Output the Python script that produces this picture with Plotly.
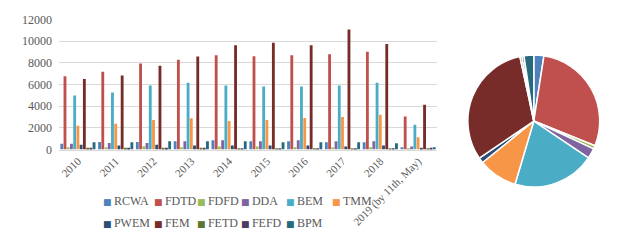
import plotly.graph_objects as go

years = ["2010", "2011", "2012", "2013", "2014", "2015", "2016", "2017", "2018", "2019 (by 11th, May)"]

RCWA = [520, 700, 700, 760, 850, 760, 760, 670, 670, 210]
FDTD = [6740, 7170, 7930, 8270, 8690, 8600, 8690, 8780, 9000, 3050]
FDFD = [210, 210, 300, 210, 270, 270, 210, 210, 210, 120]
DDA = [520, 610, 610, 760, 850, 760, 850, 760, 760, 270]
BEM = [4970, 5250, 5890, 6160, 5890, 5800, 5800, 5890, 6160, 2290]
TMM = [2200, 2380, 2710, 2870, 2620, 2710, 2900, 2990, 3200, 1130]
PWEM = [430, 370, 430, 370, 370, 370, 370, 270, 370, 150]
FEM = [6500, 6830, 7720, 8570, 9610, 9850, 9610, 11070, 9730, 4120]
FETD = [150, 150, 150, 150, 120, 120, 120, 120, 120, 120]
FEFD = [150, 150, 150, 150, 120, 120, 120, 120, 120, 150]
BPM = [670, 670, 760, 760, 760, 670, 670, 670, 580, 210]

methods = ["RCWA", "FDTD", "FDFD", "DDA", "BEM", "TMM", "PWEM", "FEM", "FETD", "FEFD", "BPM"]
series = [RCWA, FDTD, FDFD, DDA, BEM, TMM, PWEM, FEM, FETD, FEFD, BPM]
colors = ["#4F81BD", "#C0504D", "#9BBB59", "#8064A2", "#4BACC6", "#F79646",
          "#2C4D75", "#772C2A", "#5F7530", "#4D3B62", "#276A7C"]

FONT = "Liberation Serif"
GRAY = "#595959"
W, H = 628, 247

fig = go.Figure()
for name, vals, col in zip(methods, series, colors):
    fig.add_trace(go.Bar(
        x=years, y=vals, name=name, marker=dict(color=col, line=dict(width=0)),
        showlegend=False,
    ))

totals = [sum(v) for v in series]
fig.add_trace(go.Pie(
    labels=methods, values=totals, sort=False, direction="clockwise", rotation=0,
    marker=dict(colors=colors, line=dict(color="white", width=1.5)),
    textinfo="none", showlegend=False,
    domain=dict(x=[0.745, 0.955], y=[0.24, 0.78]),
))

# legend drawn as text entries (two rows, fixed columns like the original)
col_x = [101, 152, 195, 239, 284, 330]
row_y = [200.7, 222.7]
for i, (name, col) in enumerate(zip(methods, colors)):
    r, c = (0, i) if i < 6 else (1, i - 6)
    fig.add_annotation(
        xref="paper", yref="paper", x=col_x[c] / W, y=1 - row_y[r] / H,
        xanchor="left", yanchor="middle", showarrow=False,
        text=f'<span style="color:{col};font-family:DejaVu Sans;font-size:9px">■</span>\u2009{name}',
        font=dict(family=FONT, size=12, color=GRAY),
    )

fig.update_layout(
    width=W, height=H,
    margin=dict(l=0, r=0, t=0, b=0),
    paper_bgcolor="white", plot_bgcolor="white",
    barmode="group", bargap=0.06, bargroupgap=0.12,
    showlegend=False,
    xaxis=dict(
        domain=[59 / W, 437 / W], automargin=False,
        tickangle=-45, tickfont=dict(family=FONT, size=11, color=GRAY),
        showline=True, linecolor="#d9d9d9", linewidth=1, ticks="",
        showgrid=False,
    ),
    yaxis=dict(
        domain=[1 - 149.5 / H, 1 - 19.3 / H], automargin=False,
        range=[0, 12000], tickvals=[0, 2000, 4000, 6000, 8000, 10000, 12000],
        tickformat="d",
        tickfont=dict(family=FONT, size=12, color=GRAY),
        showgrid=True, gridcolor="#d9d9d9", gridwidth=1,
        zeroline=False, showline=False, ticks="", ticklabelstandoff=6,
    ),
)

fig.write_html("out.html", config={"displayModeBar": False},
               post_script="document.body.style.margin='0';")
